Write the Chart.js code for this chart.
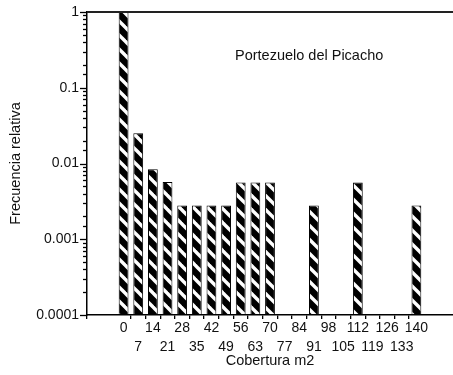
<!DOCTYPE html>
<html>
<head>
<meta charset="utf-8">
<script src="https://cdn.jsdelivr.net/npm/chart.js@4"></script>
<style>
  html, body { margin: 0; padding: 0; background: #fff; }
  canvas { display: block; }
</style>
</head>
<body>
<canvas id="chart" width="453" height="375"></canvas>
<script>
// Cobertura (m2) classes and their relative frequency
const coberturas = [0, 7, 14, 21, 28, 35, 42, 49, 56, 63, 70, 77, 84, 91, 98, 105, 112, 119, 126, 133, 140];
const frecuencias = [1, 0.025, 0.0084, 0.0057, 0.0028, 0.0028, 0.0028, 0.0028, 0.0056, 0.0056, 0.0056,
                     null, null, 0.0028, null, null, 0.0056, null, null, null, 0.0028];
const yTicksMayores = [1, 0.1, 0.01, 0.001, 0.0001];
const sitio = 'Portezuelo del Picacho';

const FONT = "'Liberation Sans', Arial, Helvetica, sans-serif";
const INK = '#111';

// two empty classes on each side leave room between the axes and the bars
const PAD = 2;
const labels = [...Array(PAD).fill(''), ...coberturas.map(String), ...Array(PAD).fill('')];
const values = [...Array(PAD).fill(null), ...frecuencias, ...Array(PAD).fill(null)];

function isPow10(v) {
  const l = Math.log10(v);
  return Math.abs(l - Math.round(l)) < 1e-9;
}

// black bars with white diagonal stripes
function hatch() {
  const s = 14;
  const c = document.createElement('canvas');
  c.width = s; c.height = s;
  const g = c.getContext('2d');
  g.fillStyle = '#000';
  g.fillRect(0, 0, s, s);
  g.strokeStyle = '#fff';
  g.lineWidth = 3.4;
  for (const x0 of [-s, 0, s]) {
    g.beginPath();
    g.moveTo(x0 - 2, -2);
    g.lineTo(x0 + s + 2, s + 2);
    g.stroke();
  }
  return g.createPattern(c, 'repeat');
}

const decor = {
  id: 'decor',
  afterDraw(chart) {
    const { ctx, chartArea: a, scales: { y } } = chart;
    ctx.save();
    // frame line along the top of the plot
    ctx.strokeStyle = '#222';
    ctx.lineWidth = 2;
    ctx.beginPath();
    ctx.moveTo(a.left, a.top);
    ctx.lineTo(a.right, a.top);
    ctx.stroke();
    // log axis tick marks: long at each decade, short in between
    ctx.strokeStyle = '#000';
    ctx.lineWidth = 1.3;
    for (const t of y.ticks) {
      const len = isPow10(t.value) ? 7 : 4;
      const py = Math.round(y.getPixelForValue(t.value)) + 0.5;
      ctx.beginPath();
      ctx.moveTo(a.left - len, py);
      ctx.lineTo(a.left, py);
      ctx.stroke();
    }
    // site name inside the plot
    ctx.fillStyle = INK;
    ctx.font = '14.5px ' + FONT;
    ctx.textBaseline = 'alphabetic';
    ctx.textAlign = 'left';
    ctx.fillText(sitio, a.left + 148, a.top + 48);
    ctx.restore();
  }
};

new Chart(document.getElementById('chart'), {
  type: 'bar',
  data: {
    labels,
    datasets: [{
      data: values,
      backgroundColor: hatch(),
      borderColor: '#000',
      borderWidth: 1,
      borderSkipped: false,
      barPercentage: 0.67,
      categoryPercentage: 1
    }]
  },
  options: {
    responsive: false,
    animation: false,
    layout: { padding: { top: 12, right: 0, left: 0, bottom: 0 } },
    plugins: { legend: { display: false }, tooltip: { enabled: false } },
    scales: {
      x: {
        type: 'category',
        offset: true,
        afterFit(s) { s.height = 60; },
        grid: {
          offset: true,
          drawOnChartArea: false,
          drawTicks: true,
          tickLength: 4,
          lineWidth: 1.3,
          tickColor: (c) => (c.index === 0 || (c.index > PAD && c.index < PAD + coberturas.length)) ? '#000' : 'rgba(0,0,0,0)'
        },
        border: { display: true, color: '#000', width: 1.5 },
        ticks: {
          autoSkip: false,
          maxRotation: 0,
          minRotation: 0,
          padding: 0,
          color: INK,
          font: { family: FONT, size: 14, lineHeight: 1.32 },
          callback(value, i) {
            const lab = labels[i];
            if (lab === '') return '';
            return (i - PAD) % 2 === 0 ? [lab, ''] : ['', lab];
          }
        },
        title: {
          display: true,
          text: 'Cobertura m2',
          color: INK,
          font: { family: FONT, size: 14.5, lineHeight: 1.2 },
          padding: { top: 0, bottom: 5 }
        }
      },
      y: {
        type: 'logarithmic',
        min: 0.0001,
        max: 1,
        afterFit(s) { s.width = 87; },
        afterBuildTicks(s) {
          // keep every 1..9 x 10^k position for the tick marks
          s.ticks = s.ticks.filter(t => t.value >= 0.0001 - 1e-12 && t.value <= 1 + 1e-12);
        },
        grid: {
          drawOnChartArea: false,
          drawTicks: true,
          tickLength: 7,
          tickColor: 'rgba(0,0,0,0)'
        },
        border: { display: true, color: '#000', width: 1.5 },
        ticks: {
          autoSkip: false,
          padding: 1,
          color: INK,
          font: { family: FONT, size: 14 },
          callback(value) {
            if (!isPow10(value)) return '';
            const e = Math.round(Math.log10(value));
            const v = yTicksMayores.find(m => Math.abs(Math.log10(m) - e) < 1e-9);
            return e === 0 ? '1' : v.toFixed(-e);
          }
        },
        title: {
          display: true,
          text: 'Frecuencia relativa',
          color: INK,
          font: { family: FONT, size: 14.5, lineHeight: 1.2 },
          padding: { top: 7, bottom: 0 }
        }
      }
    }
  },
  plugins: [decor]
});
</script>
</body>
</html>
